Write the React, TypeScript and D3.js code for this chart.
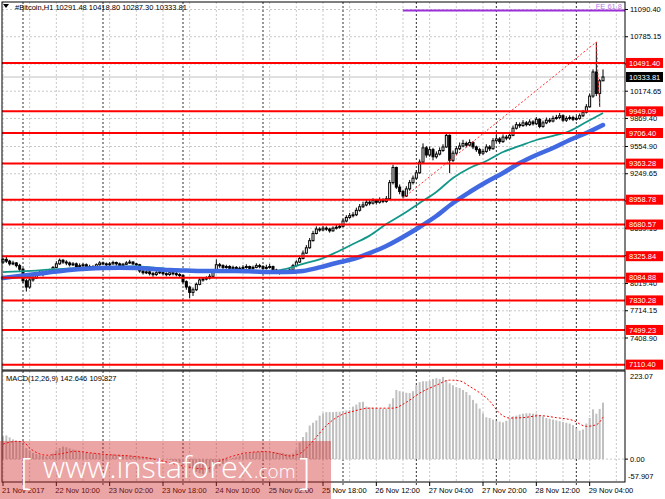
import { useEffect } from 'react'
import * as d3 from 'd3'

// H1 candles, one entry per bar (bar 0 = 21 Nov 18:00)
const opens = [
  8260, 8290, 8270, 8240, 8250, 8220, 8180, 8050, 7980, 8060,
  8080, 8120, 8140, 8130, 8150, 8160, 8200, 8240, 8280, 8260,
  8250, 8230, 8240, 8210, 8220, 8230, 8200, 8210, 8200, 8230,
  8250, 8240, 8230, 8240, 8255, 8240, 8220, 8235, 8250, 8260,
  8240, 8230, 8160, 8140, 8150, 8130, 8120, 8140, 8150, 8130,
  8120, 8140, 8130, 8120, 8110, 8040, 7980, 7920, 7950, 8010,
  8060, 8070, 8080, 8100, 8150, 8230, 8220, 8200, 8210, 8190,
  8200, 8180, 8190, 8200, 8210, 8190, 8200, 8220, 8210, 8190,
  8200, 8210, 8170, 8150, 8140, 8160, 8150, 8170, 8220, 8260,
  8300, 8360, 8420, 8500, 8580, 8630, 8620, 8640, 8630, 8610,
  8640, 8650, 8660, 8720, 8760, 8780, 8790, 8840, 8880, 8900,
  8930, 8920, 8950, 8930, 8960, 8940, 8970, 9150, 9320, 9100,
  9050, 9000, 9080, 9150, 9200, 9260, 9380, 9540, 9460, 9520,
  9440, 9470, 9510, 9550, 9680, 9400, 9480, 9530, 9560, 9590,
  9570, 9600, 9550, 9520, 9480, 9500, 9550, 9530, 9620, 9640,
  9610, 9660, 9650, 9680, 9760, 9800, 9790, 9820, 9800, 9830,
  9810, 9860, 9780, 9820, 9850, 9840, 9870, 9880, 9900, 9850,
  9870, 9880, 9860, 9870, 9900, 9940, 10000, 10120, 10390, 10150,
  10291.48
]
const highs = [
  8310, 8320, 8285, 8275, 8260, 8240, 8195, 8070, 8080, 8105,
  8140, 8165, 8160, 8170, 8185, 8215, 8270, 8300, 8295, 8280,
  8265, 8260, 8255, 8245, 8250, 8245, 8230, 8225, 8245, 8270,
  8265, 8255, 8260, 8275, 8265, 8255, 8250, 8270, 8285, 8270,
  8250, 8240, 8175, 8170, 8165, 8150, 8160, 8175, 8165, 8145,
  8160, 8155, 8150, 8135, 8120, 8055, 7995, 7975, 8030, 8080,
  8090, 8100, 8125, 8170, 8290, 8250, 8235, 8230, 8225, 8220,
  8215, 8210, 8225, 8235, 8220, 8220, 8245, 8240, 8225, 8230,
  8240, 8220, 8185, 8170, 8180, 8175, 8190, 8240, 8280, 8330,
  8390, 8450, 8530, 8610, 8660, 8650, 8665, 8660, 8645, 8660,
  8675, 8690, 8745, 8785, 8810, 8820, 8870, 8910, 8935, 8960,
  8955, 8975, 8965, 8985, 8975, 9000, 9180, 9350, 9330, 9130,
  9070, 9110, 9180, 9230, 9290, 9410, 9590, 9560, 9555, 9540,
  9500, 9545, 9580, 9706, 9690, 9510, 9560, 9600, 9630, 9610,
  9635, 9615, 9565, 9540, 9530, 9580, 9570, 9650, 9680, 9660,
  9690, 9685, 9710, 9790, 9830, 9825, 9850, 9840, 9860, 9850,
  9885, 9870, 9845, 9880, 9875, 9900, 9910, 9930, 9915, 9895,
  9905, 9900, 9895, 9925, 9965, 10030, 10150, 10420, 10726, 10310,
  10418.80
]
const lows = [
  8240, 8250, 8220, 8225, 8200, 8150, 8020, 7930, 7960, 8040,
  8070, 8110, 8100, 8115, 8135, 8150, 8190, 8230, 8240, 8225,
  8210, 8215, 8190, 8195, 8200, 8185, 8185, 8180, 8190, 8220,
  8225, 8210, 8215, 8230, 8220, 8200, 8205, 8225, 8240, 8225,
  8205, 8140, 8120, 8125, 8110, 8095, 8105, 8125, 8110, 8100,
  8105, 8110, 8100, 8085, 8010, 7950, 7855, 7880, 7935, 8000,
  8040, 8055, 8065, 8090, 8140, 8195, 8180, 8185, 8170, 8175,
  8160, 8165, 8175, 8185, 8170, 8175, 8190, 8190, 8170, 8175,
  8185, 8150, 8130, 8120, 8125, 8130, 8140, 8160, 8210, 8250,
  8290, 8350, 8410, 8490, 8570, 8600, 8605, 8610, 8590, 8600,
  8625, 8635, 8650, 8705, 8745, 8760, 8775, 8825, 8865, 8885,
  8895, 8905, 8905, 8915, 8920, 8925, 8960, 9130, 9080, 9020,
  8975, 8990, 9060, 9130, 9185, 9250, 9370, 9430, 9440, 9400,
  9420, 9455, 9495, 9540, 9257, 9380, 9460, 9515, 9545, 9545,
  9555, 9525, 9495, 9450, 9460, 9485, 9505, 9520, 9600, 9585,
  9595, 9625, 9630, 9670, 9745, 9765, 9775, 9780, 9785, 9790,
  9795, 9760, 9765, 9805, 9820, 9825, 9855, 9860, 9830, 9830,
  9850, 9840, 9845, 9855, 9885, 9925, 9990, 10100, 10120, 9998,
  10287.30
]
const closes = [
  8290, 8270, 8240, 8250, 8220, 8180, 8050, 7980, 8060, 8080,
  8120, 8140, 8130, 8150, 8160, 8200, 8240, 8280, 8260, 8250,
  8230, 8240, 8210, 8220, 8230, 8200, 8210, 8200, 8230, 8250,
  8240, 8230, 8240, 8255, 8240, 8220, 8235, 8250, 8260, 8240,
  8230, 8160, 8140, 8150, 8130, 8120, 8140, 8150, 8130, 8120,
  8140, 8130, 8120, 8110, 8040, 7980, 7920, 7950, 8010, 8060,
  8070, 8080, 8100, 8150, 8230, 8220, 8200, 8210, 8190, 8200,
  8180, 8190, 8200, 8210, 8190, 8200, 8220, 8210, 8190, 8200,
  8210, 8170, 8150, 8140, 8160, 8150, 8170, 8220, 8260, 8300,
  8360, 8420, 8500, 8580, 8630, 8620, 8640, 8630, 8610, 8640,
  8650, 8660, 8720, 8760, 8780, 8790, 8840, 8880, 8900, 8930,
  8920, 8950, 8930, 8960, 8940, 8970, 9150, 9320, 9100, 9050,
  9000, 9080, 9150, 9200, 9260, 9380, 9540, 9460, 9520, 9440,
  9470, 9510, 9550, 9680, 9400, 9480, 9530, 9560, 9590, 9570,
  9600, 9550, 9520, 9480, 9500, 9550, 9530, 9620, 9640, 9610,
  9660, 9650, 9680, 9760, 9800, 9790, 9820, 9800, 9830, 9810,
  9860, 9780, 9820, 9850, 9840, 9870, 9880, 9900, 9850, 9870,
  9880, 9860, 9870, 9900, 9940, 10000, 10120, 10390, 10150, 10291,
  10333.81
]

// moving averages, read every 5 bars
const maIdx = d3.range(0, 181, 5)
const tealMa = [
  8148, 8155, 8165, 8178, 8188, 8198, 8204, 8208, 8210, 8198,
  8182, 8168, 8160, 8152, 8148, 8148, 8150, 8185, 8240, 8290,
  8370, 8462, 8556, 8686, 8798, 8922, 9045, 9202, 9314, 9393,
  9494, 9561, 9628, 9673, 9729, 9830, 9930
]
const blueMa = [
  8081, 8105, 8126, 8150, 8171, 8185, 8193, 8195, 8193, 8183,
  8171, 8165, 8160, 8160, 8160, 8155, 8148, 8148, 8160, 8200,
  8250, 8294, 8361, 8440, 8541, 8653, 8776, 8922, 9045, 9157,
  9258, 9370, 9460, 9538, 9628, 9706, 9796
]

// MACD histogram per bar
const macdHist = [
  58, 60, 55, 50, 47, 45, 35, 28, 22, 16,
  13, 10, 8, 7, 8, 14, 22, 28, 32, 30,
  27, 24, 22, 20, 18, 17, 16, 15, 14, 14,
  13, 13, 12, 12, 11, 11, 10, 10, 9, 8,
  7, 6, 6, 5, 4, 3, 2, 2, 1, 0,
  -2, -4, -6, -9, -12, -16, -20, -26, -32, -36,
  -38, -37, -34, -30, -25, -18, -12, -6, -1, 3,
  6, 9, 12, 14, 16, 17, 18, 19, 19, 19,
  18, 18, 17, 16, 15, 13, 12, 14, 24, 42,
  56, 68, 85, 92, 98, 110, 116, 119, 119, 119,
  120, 120, 122, 123, 124, 133, 138, 144, 145, 133,
  131, 130, 129, 128, 128, 128, 140, 154, 175, 172,
  170, 168, 167, 172, 187, 195, 197, 197, 198, 203,
  205, 203, 208, 200, 192, 187, 182, 180, 175, 170,
  162, 150, 141, 128, 116, 106, 104, 100, 97, 95,
  93, 97, 104, 108, 110, 113, 115, 116, 116, 115,
  115, 112, 108, 104, 102, 100, 98, 96, 94, 92,
  90, 86, 78, 72, 75, 90, 104, 126, 115, 127,
  143
]
const signalIdx = [0, 4, 6, 8, 13, 17, 22, 26, 32, 38, 44, 50, 56, 61, 65, 70, 74, 79, 83, 86, 89, 93, 97, 101, 105, 110, 117, 121, 125, 130, 134, 137, 140, 143, 146, 149, 152, 156, 161, 166, 171, 175, 178, 180]
const signalVals = [38, 45, 44, 28, 10, 13, 20, 16, 11, 8, 2, -9, -21, -25, -5, 10, 17, 19, 13, 8, 14, 46, 85, 110, 121, 129, 129, 144, 167, 187, 200, 198, 184, 168, 147, 116, 104, 105, 110, 105, 98, 83, 87, 106]

const levels = [10491.40, 9949.09, 9706.40, 9363.28, 8958.78, 8680.57, 8325.84, 8084.88, 7830.28, 7499.23, 7110.40]
const priceTicks = [11090.40, 10785.15, 10479.90, 10174.65, 9869.40, 9554.90, 9249.65, 8944.40, 8639.15, 8333.90, 8019.40, 7714.15, 7408.90]
const dateLabels = ['21 Nov 2017', '22 Nov 10:00', '23 Nov 02:00', '23 Nov 18:00', '24 Nov 10:00', '25 Nov 02:00',
  '25 Nov 18:00', '26 Nov 12:00', '27 Nov 04:00', '27 Nov 20:00', '28 Nov 12:00', '29 Nov 04:00']
const daySeparators = [6, 30, 54, 78, 102, 124, 148, 172]
const lastPrice = 10333.81

// fibo expansion anchors (bar, price)
const fiboPts: [number, number][] = [[120, 8975], [178, 10726], [179, 9998]]
const feLevel = 11080

const font = '"Liberation Sans", Arial, sans-serif'

export default function App() {
  useEffect(() => {
    document.body.style.margin = '0'
  }, [])

  const x = d3.scaleLinear().domain([0, 186.6]).range([3, 625])
  const y = d3.scaleLinear().domain([7050.3, 11174.45]).range([370, 2])
  const ym = d3.scaleLinear().domain([-57.907, 223.07]).range([482, 371])

  const gridBars = d3.range(0, 187, 8)
  const maLine = d3.line<number>().x((_, i) => x(maIdx[i])).curve(d3.curveMonotoneX)
  const tealPath = maLine.y(d => y(d))(tealMa) || ''
  const bluePath = maLine.y(d => y(d))(blueMa) || ''
  const signalPath = d3.line<number>()
    .x((_, i) => x(signalIdx[i]))
    .y(d => ym(d))
    .curve(d3.curveMonotoneX)(signalVals) || ''
  const fiboPath = d3.line<[number, number]>().x(d => x(d[0])).y(d => y(d[1]))(fiboPts) || ''

  const txt = { fontFamily: font, fontSize: '7.5px' }

  return (
    <svg width={665} height={499} style={{ display: 'block', background: '#fff' }}>
      <rect x={0} y={0} width={665} height={499} fill="#fff" />

      {/* vertical grid, both panes */}
      {gridBars.map(b => (
        <g key={'g' + b}>
          <line x1={x(b)} x2={x(b)} y1={2} y2={370} stroke="#c8c8c8" strokeDasharray="2,2" />
          <line x1={x(b)} x2={x(b)} y1={371} y2={482} stroke="#c8c8c8" strokeDasharray="2,2" />
        </g>
      ))}
      {daySeparators.map(b => (
        <g key={'d' + b}>
          <line x1={x(b)} x2={x(b)} y1={2} y2={370} stroke="#303030" strokeDasharray="2,2" />
          <line x1={x(b)} x2={x(b)} y1={371} y2={486} stroke="#303030" strokeDasharray="2,2" />
        </g>
      ))}
      {priceTicks.map(t => (
        <line key={'h' + t} x1={2} x2={625} y1={y(t)} y2={y(t)} stroke="#c8c8c8" strokeDasharray="2,2" />
      ))}
      <line x1={2} x2={625} y1={ym(0)} y2={ym(0)} stroke="#c8c8c8" strokeDasharray="2,2" />

      {/* current price line */}
      <line x1={2} x2={625} y1={y(lastPrice)} y2={y(lastPrice)} stroke="#c0c0c0" />

      {/* candles */}
      {closes.map((c, i) => {
        const o = opens[i]
        const bull = c >= o
        const top = y(Math.max(o, c))
        const bh = Math.max(1, y(Math.min(o, c)) - top)
        return (
          <g key={'c' + i}>
            <line x1={x(i)} x2={x(i)} y1={y(highs[i])} y2={y(lows[i])} stroke="#000" strokeWidth={1} />
            <rect x={x(i) - 1} y={top} width={2} height={bh}
              fill={bull ? '#fff' : '#000'} stroke="#000" strokeWidth={1} />
          </g>
        )
      })}

      {/* moving averages */}
      <path d={tealPath} fill="none" stroke="#13968a" strokeWidth={1.8} />
      <path d={bluePath} fill="none" stroke="#4169e1" strokeWidth={4.5} strokeLinecap="round" />

      {/* horizontal levels */}
      {levels.map(l => (
        <line key={'l' + l} x1={2} x2={625} y1={y(l)} y2={y(l)} stroke="#ff0000" strokeWidth={2} />
      ))}

      {/* fibo expansion */}
      <path d={fiboPath} fill="none" stroke="#ff3030" strokeWidth={1} strokeDasharray="2,2" />
      <line x1={x(fiboPts[0][0])} x2={625} y1={y(feLevel)} y2={y(feLevel)} stroke="#9b30d8" strokeWidth={2} />
      <text x={622} y={8.5} textAnchor="end" fill="#b07ce8" style={txt}>FE 61.8</text>

      {/* MACD histogram and signal */}
      {macdHist.map((v, i) => (
        <rect key={'m' + i} x={x(i) - 1} y={Math.min(ym(v), ym(0))} width={2}
          height={Math.abs(ym(0) - ym(v))} fill="#c0c0c0" />
      ))}
      <path d={signalPath} fill="none" stroke="#ff0000" strokeWidth={1} strokeDasharray="2,2" />

      {/* pane frames */}
      <rect x={2} y={2} width={623} height={368} fill="none" stroke="#000" strokeWidth={1} />
      <rect x={2} y={371} width={623} height={111} fill="none" stroke="#000" strokeWidth={1} />

      {/* price axis */}
      {priceTicks.map(t => (
        <g key={'pt' + t}>
          <line x1={625} x2={628} y1={y(t)} y2={y(t)} stroke="#000" />
          <text x={630} y={y(t)} dy="0.35em" fill="#000" style={txt}>{t.toFixed(2)}</text>
        </g>
      ))}
      {levels.map(l => (
        <g key={'pl' + l}>
          <rect x={626} y={y(l) - 5} width={37} height={10} fill="#ff0000" />
          <text x={629} y={y(l)} dy="0.35em" fill="#fff" style={txt}>{l.toFixed(2)}</text>
        </g>
      ))}
      <rect x={626} y={y(lastPrice) - 5} width={37} height={10} fill="#000" />
      <text x={629} y={y(lastPrice)} dy="0.35em" fill="#fff" style={txt}>{lastPrice.toFixed(2)}</text>

      {/* MACD axis */}
      <text x={630} y={376} dy="0.35em" fill="#000" style={txt}>223.07</text>
      <line x1={625} x2={628} y1={ym(0)} y2={ym(0)} stroke="#000" />
      <text x={630} y={ym(0)} dy="0.35em" fill="#000" style={txt}>0.00</text>
      <text x={628} y={476} dy="0.35em" fill="#000" style={txt}>-57.907</text>

      {/* time axis */}
      {dateLabels.map((d, k) => (
        <g key={'t' + k}>
          <line x1={x(k * 16)} x2={x(k * 16)} y1={482} y2={486} stroke="#000" />
          <text x={x(k * 16) - 1} y={493} fill="#000" style={txt}>{d}</text>
        </g>
      ))}

      {/* titles */}
      <polygon points="3,4 9,4 6,8" fill="#000" />
      <text x={15} y={9.5} fill="#000" style={txt}>#Bitcoin,H1  10291.48 10418.80 10287.30 10333.81</text>
      <text x={6} y={381} fill="#000" style={txt}>MACD(12,26,9) 142.646 109.827</text>

      {/* watermark */}
      <rect x={0} y={441} width={331} height={58} fill="rgb(210,40,40)" fillOpacity={0.42} />
      <g fill="#fff" fontFamily='"Open Sans", "DejaVu Sans", sans-serif'>
        <text x={20} y={484} fontSize={36} fontWeight={300}>[</text>
        <text x={43} y={478} fontSize={30} fontWeight={300} textLength={210} lengthAdjust="spacingAndGlyphs">www.instaforex</text>
        <text x={254} y={478} fontSize={19} fontWeight={300}>.com</text>
        <text x={299} y={484} fontSize={36} fontWeight={300}>]</text>
      </g>
    </svg>
  )
}
